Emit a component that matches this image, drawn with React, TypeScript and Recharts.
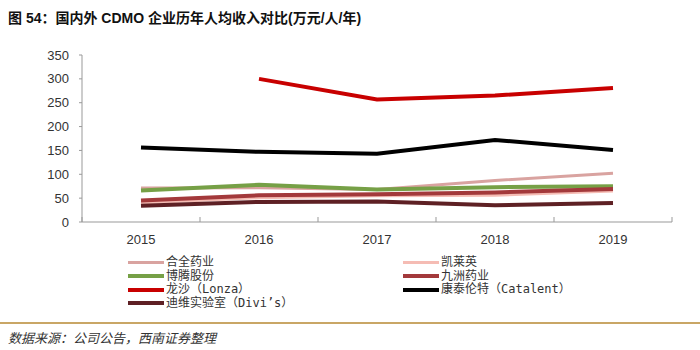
import React from 'react'
import { LineChart, Line, XAxis, YAxis } from 'recharts'

const years = ['2015', '2016', '2017', '2018', '2019']
const yTicks = [0, 50, 100, 150, 200, 250, 300, 350]

const hequan = [71, 72, 68, 87, 102]
const kailaiying = [40, 51, 55, 56, 65]
const boteng = [66, 78, 68, 73, 75]
const jiuzhou = [45, 56, 58, 62, 69]
const lonza = [null, 300, 257, 265, 281]
const catalent = [156, 147, 143, 172, 151]
const divis = [34, 42, 43, 35, 40]

const series = [
  { key: 'hequan', name: '合全药业', values: hequan, color: '#d9a3a0', width: 3 },
  { key: 'kailaiying', name: '凯莱英', values: kailaiying, color: '#f5bcb4', width: 3 },
  { key: 'boteng', name: '博腾股份', values: boteng, color: '#76a046', width: 4 },
  { key: 'jiuzhou', name: '九洲药业', values: jiuzhou, color: '#a3393b', width: 4 },
  { key: 'lonza', name: '龙沙（Lonza）', values: lonza, color: '#c80000', width: 4 },
  { key: 'catalent', name: '康泰伦特（Catalent）', values: catalent, color: '#000000', width: 4 },
  { key: 'divis', name: '迪维实验室（Divi’s）', values: divis, color: '#5e2024', width: 4 },
]

const data = years.map((y, i) => {
  const row: Record<string, number | string | null> = { x: i, year: y }
  series.forEach(s => { row[s.key] = s.values[i] })
  return row
})

const boundaryTicks = [-0.5, 0.5, 1.5, 2.5, 3.5, 4.5]
const halfStep = 59

function XTick(props: any) {
  const { x, y, index } = props
  return (
    <g>
      <line x1={x} x2={x} y1={y - 5} y2={y} stroke="#999" />
      {index < years.length && (
        <text x={x + halfStep} y={y + 22} textAnchor="middle" fontSize={13} fill="#333">
          {years[index]}
        </text>
      )}
    </g>
  )
}

const font = '"Liberation Sans", Arial, "Noto Sans CJK SC", sans-serif'
const legendFont = '"DejaVu Sans Mono", "Noto Sans CJK SC", monospace'

export default function App() {
  return (
    <div style={{ position: 'absolute', left: 0, top: 0, width: 700, height: 350, background: '#fff', fontFamily: font, overflow: 'hidden' }}>
      <div style={{ position: 'absolute', left: 8, top: 7, fontSize: 14, fontWeight: 700, color: '#111', whiteSpace: 'nowrap' }}>
        图 54：国内外 CDMO 企业历年人均收入对比(万元/人/年)
      </div>

      <div style={{ position: 'absolute', left: 0, top: 0 }}>
        <LineChart width={700} height={250} data={data} margin={{ top: 55, right: 28, left: 0, bottom: 0 }}>
          <XAxis
            dataKey="x"
            type="number"
            domain={[-0.5, 4.5]}
            ticks={boundaryTicks}
            interval={0}
            tickLine={false}
            tickSize={0}
            tickMargin={0}
            height={28}
            axisLine={{ stroke: '#999' }}
            tick={<XTick />}
          />
          <YAxis
            domain={[0, 350]}
            ticks={yTicks}
            width={82}
            tickSize={3}
            tickMargin={10}
            axisLine={{ stroke: '#999' }}
            tickLine={{ stroke: '#999' }}
            tick={{ fontSize: 13, fill: '#333' }}
            interval={0}
          />
          {series.map(s => (
            <Line
              key={s.key}
              dataKey={s.key}
              name={s.name}
              stroke={s.color}
              strokeWidth={s.width}
              dot={false}
              type="linear"
              isAnimationActive={false}
            />
          ))}
        </LineChart>
      </div>

      {/* legend in two columns */}
      {series.map((s, i) => {
        const col = i % 2
        const row = Math.floor(i / 2)
        return (
          <div key={s.key} style={{ position: 'absolute', left: col === 0 ? 128 : 403, top: 256 + row * 13.5, display: 'flex', alignItems: 'center', height: 13 }}>
            <span style={{ display: 'inline-block', width: 36, height: s.width === 3 ? 3 : 4, background: s.color, marginRight: 2 }} />
            <span style={{ fontSize: 12, color: '#333', fontFamily: legendFont, whiteSpace: 'nowrap', lineHeight: '13px' }}>{s.name}</span>
          </div>
        )
      })}

      <div style={{ position: 'absolute', left: 0, top: 322, width: 700, height: 2, background: '#c9a665' }} />
      <div style={{ position: 'absolute', left: 8, top: 328, fontSize: 13, fontStyle: 'italic', color: '#333', fontFamily: '"Noto Sans CJK SC", sans-serif', whiteSpace: 'nowrap' }}>
        数据来源：公司公告，西南证券整理
      </div>
    </div>
  )
}
